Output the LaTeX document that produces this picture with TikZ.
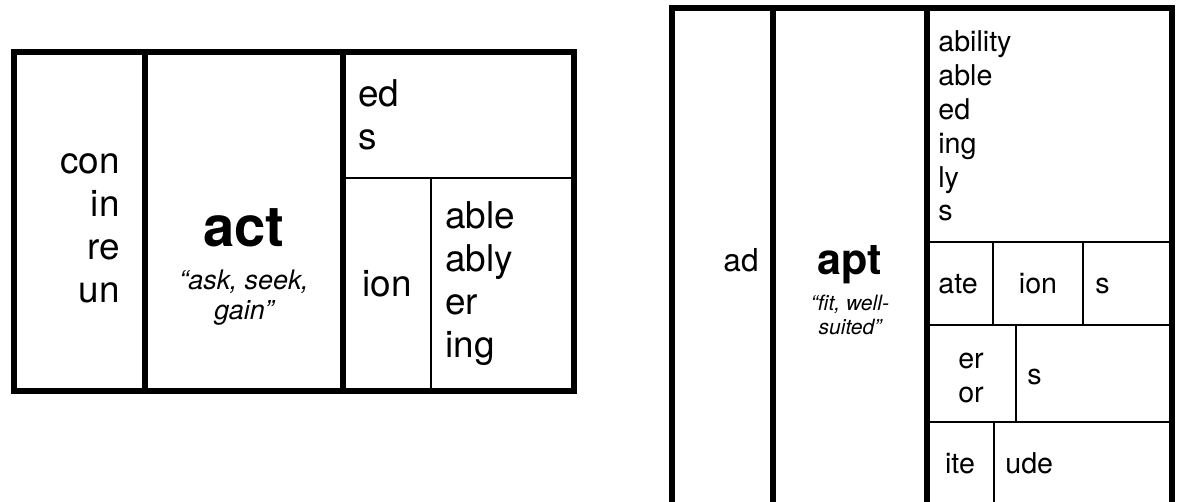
\documentclass[tikz,border=0pt]{standalone}
\usepackage{fontspec}
\setmainfont{TeX Gyre Heros}
\usetikzlibrary{positioning}
\colorlet{colTinta}{black}
\tikzset{
  frameRule/.style={draw=colTinta, line width=3.1pt, line join=miter},
  cellRule/.style={draw=colTinta, line width=1.4pt},
  affixBig/.style={inner sep=0pt, text=colTinta, font=\fontsize{21}{24.5}\selectfont},
  affixSmall/.style={inner sep=0pt, text=colTinta, font=\fontsize{16.3}{19.3}\selectfont},
  rootBig/.style={inner sep=0pt, text=colTinta, font=\fontsize{32}{36}\selectfont\bfseries},
  rootSmall/.style={inner sep=0pt, text=colTinta, font=\fontsize{24.5}{28}\selectfont\bfseries},
  glossBig/.style={inner sep=0pt, align=center, text=colTinta, font=\fontsize{15.3}{17}\selectfont\itshape},
  glossSmall/.style={inner sep=0pt, align=center, text=colTinta, font=\fontsize{12}{14}\selectfont\itshape},
}

\begin{document}
\begin{tikzpicture}[x=0.02cm, y=-0.02cm]
    \useasboundingbox (0,0) rectangle (1178,502);
    \clip (0,0) rectangle (1178,502);
    % act
    \draw[frameRule] (14,52) rectangle (574,391);
    \draw[frameRule] (145,52) -- (145,391) (343,52) -- (343,391);
    \draw[cellRule] (343,178) -- (574,178) (431,178) -- (431,391);
    \node[affixBig, anchor=east, align=right] (actPrefixes) at (120,228) {con\\in\\re\\un};
    \node[rootBig, anchor=base] (actRoot) at (244,247) {act};
    \node[glossBig, below=12.5pt of actRoot] (actGloss) {“ask, seek,\\gain”};
    \node[affixBig, anchor=west, align=left] (actEndings) at (358,115) {ed\\s};
    \node[affixBig, anchor=base] (actIon) at (387,297) {ion};
    \node[affixBig, anchor=west, align=left] (actIonEndings) at (445,284) {able\\ably\\er\\ing};
    % apt
    \draw[frameRule] (672,506) -- (672,8) -- (1172,8) -- (1172,506);
    \draw[frameRule] (773,8) -- (773,506) (927,8) -- (927,506);
    \draw[cellRule] (927,242) -- (1172,242) (927,325) -- (1172,325) (927,422) -- (1172,422);
    \draw[cellRule] (993,242) -- (993,325) (1083,242) -- (1083,325)
                    (1016,325) -- (1016,422) (994,422) -- (994,506);
    \node[affixBig, font=\fontsize{18}{21}\selectfont, anchor=base east] (aptPrefix) at (759,272) {ad};
    \node[rootSmall, anchor=base] (aptRoot) at (850,275) {apt};
    \node[glossSmall, below=5.5pt of aptRoot] (aptGloss) {“fit, well-\\suited”};
    \node[affixSmall, anchor=west, align=left] (aptEndings) at (938,126) {ability\\able\\ed\\ing\\ly\\s};
    \node[affixSmall, anchor=base west] (aptAte) at (938,294) {ate};
    \node[affixSmall, anchor=base] (aptIon) at (1038,294) {ion};
    \node[affixSmall, anchor=base west] (aptAteS) at (1095,294) {s};
    \node[affixSmall, align=center] (aptEr) at (971,378) {er\\or};
    \node[affixSmall, anchor=base west] (aptErS) at (1027,385) {s};
    \node[affixSmall, anchor=base] (aptIte) at (960,474) {ite};
    \node[affixSmall, anchor=base west] (aptUde) at (1005,474) {ude};
\end{tikzpicture}
\end{document}
